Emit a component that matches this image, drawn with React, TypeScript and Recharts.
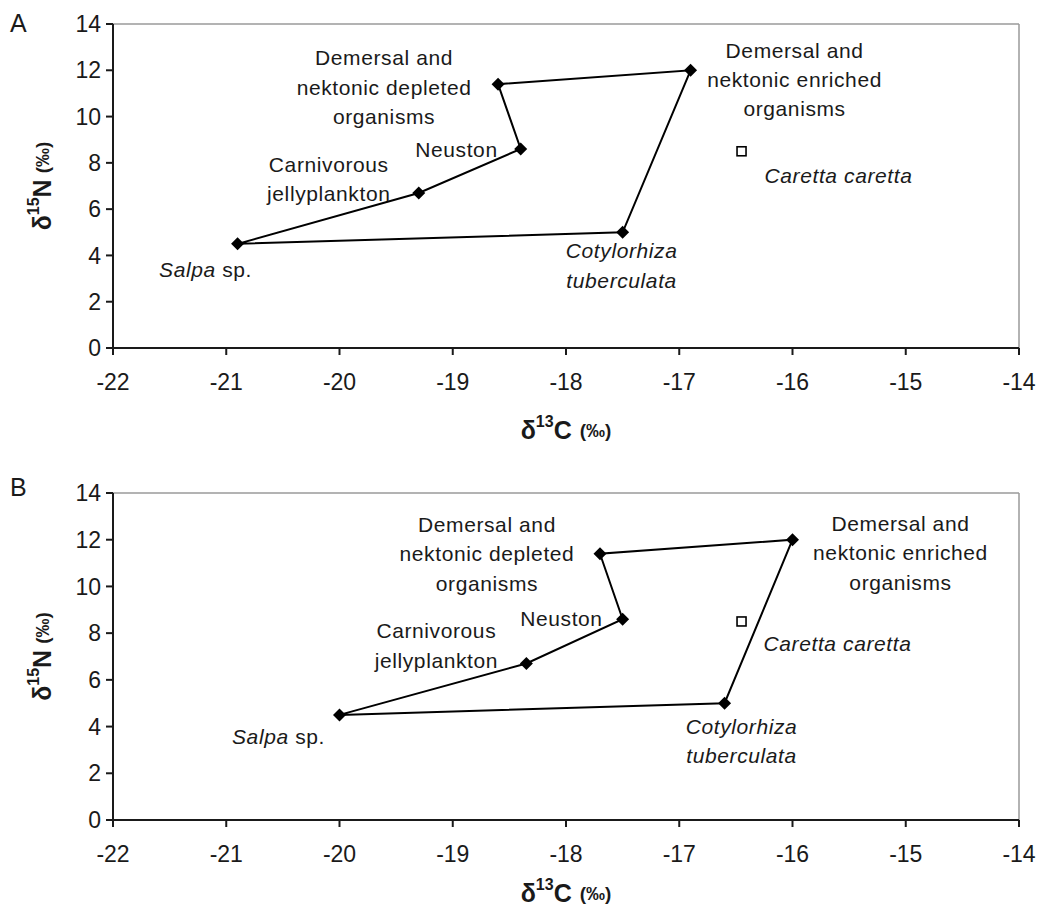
import { ScatterChart, Scatter, XAxis, YAxis, ReferenceLine, Label } from 'recharts';

// species in the order they are listed
const SPECIES = [
  'Salpa sp.',
  'Carnivorous jellyplankton',
  'Neuston',
  'Demersal and nektonic depleted organisms',
  'Demersal and nektonic enriched organisms',
  'Cotylorhiza tuberculata',
];

// label text, line by line (italic parts for species names)
const SPECIES_LINES = [
  [[{ text: 'Salpa', italic: true }, { text: ' sp.' }]],
  [[{ text: 'Carnivorous' }], [{ text: 'jellyplankton' }]],
  [[{ text: 'Neuston' }]],
  [[{ text: 'Demersal and' }], [{ text: 'nektonic depleted' }], [{ text: 'organisms' }]],
  [[{ text: 'Demersal and' }], [{ text: 'nektonic enriched' }], [{ text: 'organisms' }]],
  [[{ text: 'Cotylorhiza', italic: true }], [{ text: 'tuberculata', italic: true }]],
];

// panel A
const D13C_A = [-20.9, -19.3, -18.4, -18.6, -16.9, -17.5];
const D15N_A = [4.5, 6.7, 8.6, 11.4, 12.0, 5.0];
// panel B
const D13C_B = [-20.0, -18.35, -17.5, -17.7, -16.0, -16.6];
const D15N_B = [4.5, 6.7, 8.6, 11.4, 12.0, 5.0];

const TURTLE = 'Caretta caretta';
const TURTLE_C = -16.45;
const TURTLE_N = 8.5;

// polygon order around the prey sources
const HULL_ORDER = [0, 1, 2, 3, 4, 5, 0];

const X_TICKS = [-22, -21, -20, -19, -18, -17, -16, -15, -14];
const Y_TICKS = [0, 2, 4, 6, 8, 10, 12, 14];

const FONT = '"Liberation Sans", Arial, sans-serif';
const INK = '#1a1a1a';

type Off = { dx: number; dy: number; lh?: number; anchor?: 'start' | 'middle' | 'end' };

// label placement relative to the marker (px)
const OFFSETS_A: Off[] = [
  { dx: -32, dy: 25 },
  { dx: -90, dy: -29, lh: 29 },
  { dx: -23, dy: 0, anchor: 'end' },
  { dx: -114, dy: -27, lh: 29.5 },
  { dx: 104, dy: -20, lh: 29 },
  { dx: -1, dy: 18, lh: 30 },
];
const TURTLE_OFF_A: Off = { dx: 97, dy: 24 };

const OFFSETS_B: Off[] = [
  { dx: -61, dy: 21 },
  { dx: -90, dy: -34, lh: 30 },
  { dx: -20, dy: -1, anchor: 'end' },
  { dx: -113, dy: -30, lh: 29.5 },
  { dx: 108, dy: -17, lh: 29.5 },
  { dx: 17, dy: 23, lh: 29 },
];
const TURTLE_OFF_B: Off = { dx: 96, dy: 22 };

type Seg = { text: string; italic?: boolean };

function LabelText({ lines, cx, cy, off }: { lines: Seg[][]; cx: number; cy: number; off: Off }) {
  const lh = off.lh ?? 29;
  return (
    <g>
      {lines.map((segs, i) => (
        <text
          key={i}
          x={cx + off.dx}
          y={cy + off.dy + i * lh}
          textAnchor={off.anchor ?? 'middle'}
          dominantBaseline="central"
          fontFamily={FONT}
          fontSize={21}
          letterSpacing={0.6}
          fill={INK}
        >
          {segs.map((s, j) => (
            <tspan key={j} fontStyle={s.italic ? 'italic' : 'normal'}>
              {s.text}
            </tspan>
          ))}
        </text>
      ))}
    </g>
  );
}

function makeSpeciesShape(offsets: Off[]) {
  return (props: any) => {
    const { cx, cy, payload } = props;
    const i = payload.idx;
    const s = 6.5;
    return (
      <g>
        <path d={`M${cx},${cy - s}L${cx + s},${cy}L${cx},${cy + s}L${cx - s},${cy}Z`} fill="#000" />
        <LabelText lines={SPECIES_LINES[i]} cx={cx} cy={cy} off={offsets[i]} />
      </g>
    );
  };
}

function makeTurtleShape(off: Off) {
  return (props: any) => {
    const { cx, cy } = props;
    return (
      <g>
        <rect x={cx - 4.5} y={cy - 4.5} width={9} height={9} fill="#fff" stroke="#000" strokeWidth={1.6} />
        <LabelText lines={[[{ text: TURTLE, italic: true }]]} cx={cx} cy={cy} off={off} />
      </g>
    );
  };
}

function XTitle({ viewBox, gap }: any) {
  const { x, y, width } = viewBox;
  return (
    <text
      x={x + width / 2}
      y={y + gap}
      textAnchor="middle"
      dominantBaseline="central"
      fontFamily={FONT}
      fontWeight="bold"
      fontSize={25}
      fill={INK}
    >
      δ
      <tspan dy={-9} fontSize={16}>13</tspan>
      <tspan dy={9}>C</tspan>
      <tspan fontSize={19} dx={8}>(‰)</tspan>
    </text>
  );
}

function YTitle({ viewBox }: any) {
  const { x, y, height } = viewBox;
  const tx = x + 42;
  const ty = y + height / 2;
  return (
    <text
      x={tx}
      y={ty}
      transform={`rotate(-90, ${tx}, ${ty})`}
      textAnchor="middle"
      dominantBaseline="central"
      fontFamily={FONT}
      fontWeight="bold"
      fontSize={25}
      fill={INK}
    >
      δ
      <tspan dy={-9} fontSize={16}>15</tspan>
      <tspan dy={9}>N</tspan>
      <tspan fontSize={19} dx={6}>(‰)</tspan>
    </text>
  );
}

interface PanelProps {
  letter: string;
  top: number;
  height: number;
  marginTop: number;
  marginBottom: number;
  d13c: number[];
  d15n: number[];
  offsets: Off[];
  turtleOff: Off;
  titleGap: number;
  letterTop: number;
}

function Panel({ letter, top, height, marginTop, marginBottom, d13c, d15n, offsets, turtleOff, titleGap, letterTop }: PanelProps) {
  const points = SPECIES.map((name, idx) => ({ x: d13c[idx], y: d15n[idx], name, idx }));
  const hull = HULL_ORDER.map((idx) => ({ x: d13c[idx], y: d15n[idx] }));
  const turtle = [{ x: TURTLE_C, y: TURTLE_N, name: TURTLE }];
  const tickStyle = { fontFamily: FONT, fontSize: 23, fill: INK };

  return (
    <div style={{ position: 'absolute', left: 0, top, width: 1040, height }}>
      <div
        style={{
          position: 'absolute',
          left: 10,
          top: letterTop,
          fontFamily: FONT,
          fontSize: 25,
          color: INK,
          lineHeight: 1,
        }}
      >
        {letter}
      </div>
      <ScatterChart width={1040} height={height} margin={{ top: marginTop, right: 21, bottom: marginBottom, left: 0 }}>
        <XAxis
          type="number"
          dataKey="x"
          domain={[-22, -14]}
          ticks={X_TICKS}
          height={90}
          tickSize={7}
          tickMargin={19}
          tick={tickStyle}
          axisLine={{ stroke: INK, strokeWidth: 2 }}
          tickLine={{ stroke: INK, strokeWidth: 2 }}
        >
          <Label content={(p: any) => <XTitle viewBox={p.viewBox} gap={titleGap} />} />
        </XAxis>
        <YAxis
          type="number"
          dataKey="y"
          domain={[0, 14]}
          ticks={Y_TICKS}
          width={113}
          tickSize={7}
          tickMargin={5}
          tick={tickStyle}
          axisLine={{ stroke: INK, strokeWidth: 2 }}
          tickLine={{ stroke: INK, strokeWidth: 2 }}
        >
          <Label content={(p: any) => <YTitle viewBox={p.viewBox} />} />
        </YAxis>
        <ReferenceLine y={14} stroke="#9a9a9a" strokeWidth={1.5} />
        <ReferenceLine x={-14} stroke="#9a9a9a" strokeWidth={1.5} />
        <Scatter
          data={hull}
          line={{ stroke: '#000', strokeWidth: 2 }}
          lineType="joint"
          shape={() => <g />}
          isAnimationActive={false}
          legendType="none"
        />
        <Scatter data={points} shape={makeSpeciesShape(offsets)} isAnimationActive={false} legendType="none" />
        <Scatter data={turtle} shape={makeTurtleShape(turtleOff)} isAnimationActive={false} legendType="none" />
      </ScatterChart>
    </div>
  );
}

export default function App() {
  return (
    <div style={{ position: 'absolute', left: 0, top: 0, width: 1040, height: 912, background: '#fff', overflow: 'hidden' }}>
      <Panel
        letter="A"
        top={0}
        height={460}
        marginTop={24}
        marginBottom={22}
        d13c={D13C_A}
        d15n={D15N_A}
        offsets={OFFSETS_A}
        turtleOff={TURTLE_OFF_A}
        titleGap={82}
        letterTop={11}
      />
      <Panel
        letter="B"
        top={469}
        height={443}
        marginTop={24}
        marginBottom={2}
        d13c={D13C_B}
        d15n={D15N_B}
        offsets={OFFSETS_B}
        turtleOff={TURTLE_OFF_B}
        titleGap={73}
        letterTop={6}
      />
    </div>
  );
}
